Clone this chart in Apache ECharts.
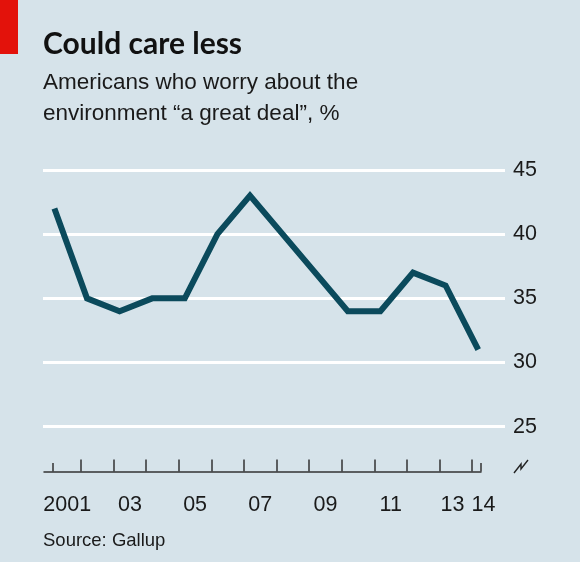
<!DOCTYPE html>
<html><head><meta charset="utf-8">
<script src="https://cdn.jsdelivr.net/npm/echarts@6/dist/echarts.min.js"></script>
<style>html,body{margin:0;padding:0;background:#d6e3ea}#c{width:580px;height:562px}</style>
</head><body><div id="c"></div>
<script>
// ---- data ----
const years = [2001,2002,2003,2004,2005,2006,2007,2008,2009,2010,2011,2012,2013,2014];
const values = [42,35,34,35,35,40,43,40,37,34,34,37,36,31];
const yTickValues = [25,30,35,40,45];
const labelYears = [2001,2003,2005,2007,2009,2011,2013,2014];
const labelTexts = ['2001','03','05','07','09','11','13','14'];

const title = 'Could care less';
const subtitle = 'Americans who worry about the\nenvironment \u201ca great deal\u201d, %';
const source = 'Source: Gallup';

const BG = '#d6e3ea', LINE = '#0b4a5c', TXT = '#1a1a1a', AX = '#333333';
const FONT = '"Liberation Sans", Arial, sans-serif';
const FONT_T = 'Lato, "Liberation Sans", sans-serif';

const chart = echarts.init(document.getElementById('c'), null, {renderer:'canvas'});

const labelMap = {};
labelYears.forEach((y,i)=>{ labelMap[y] = labelTexts[i]; });
const labelRichKey = {2001:'l', 2013:'m', 2014:'r'};

const hiddenY = i => ({type:'value', gridIndex:i, show:false, min:0, max:1});

chart.setOption({
  backgroundColor: BG,
  animation: false,
  title: [
    {text: title, left: 43, top: 29, padding: 0,
     textStyle:{fontFamily: FONT_T, fontSize: 30, lineHeight: 30, fontWeight:'bold', color: '#111'}},
    {text: subtitle, left: 43, top: 67, padding: 0,
     textStyle:{fontFamily: FONT, fontSize: 22.5, lineHeight: 31, fontWeight:'normal', color: TXT}},
    {text: source, left: 43, top: 531, padding: 0,
     textStyle:{fontFamily: FONT, fontSize: 18.5, lineHeight: 19, fontWeight:'normal', color: TXT}}
  ],
  graphic: [
    {type:'rect', shape:{x:0, y:0, width:18, height:54}, style:{fill:'#e3120b'}},
    {type:'polyline', shape:{points:[[514,473],[521,464],[521,469],[528,460]]},
     style:{stroke:'#222', lineWidth:1.4, fill:null}}
  ],
  grid: [
    {left:43, right:75, top:170, height:256.7},
    {left:44, right:99, top:400, height:71.5},
    {left:81, right:107.8, top:400, height:71.5},
    {left:53, right:99, top:400, height:71.5},
    {left:64.7, right:91.5, top:400, height:71.5}
  ],
  xAxis: [
    {type:'value', gridIndex:0, min:2000.6503, max:2014.8221, show:false},
    {type:'value', gridIndex:1, min:0, max:1, axisLine:{show:true, lineStyle:{color:AX, width:1.5}},
     axisTick:{show:false}, axisLabel:{show:false}, splitLine:{show:false}},
    {type:'value', gridIndex:2, min:2002, max:2014, interval:1, axisLine:{show:false},
     axisTick:{show:true, inside:true, length:12, lineStyle:{color:AX, width:1.5}},
     axisLabel:{show:false}, splitLine:{show:false}},
    {type:'value', gridIndex:3, min:0, max:1, interval:1, axisLine:{show:false},
     axisTick:{show:true, inside:true, length:8.5, lineStyle:{color:AX, width:1.5}},
     axisLabel:{show:false}, splitLine:{show:false}},
    {type:'value', gridIndex:4, min:2001, max:2014, interval:1, axisLine:{show:false},
     axisTick:{show:false}, splitLine:{show:false},
     axisLabel:{show:true, margin:23, showMinLabel:true, showMaxLabel:true,
       fontFamily: FONT, fontSize:21.5, color: TXT,
       formatter: v => {
         const t = labelMap[v];
         if (!t) return '';
         const k = labelRichKey[v];
         return k ? '{' + k + '|' + t + '}' : t;
       },
       rich:{
         l:{padding:[0,0,0,5], fontFamily: FONT, fontSize:21.5, color:TXT},
         m:{padding:[0,7,0,0], fontFamily: FONT, fontSize:21.5, color:TXT},
         r:{padding:[0,10,0,0], fontFamily: FONT, fontSize:21.5, color:TXT}
       }}}
  ],
  yAxis: [
    {type:'value', gridIndex:0, position:'right', min:yTickValues[0], max:yTickValues[yTickValues.length-1], interval:5,
     axisLine:{show:false}, axisTick:{show:false},
     splitLine:{show:true, lineStyle:{color:'#ffffff', width:3}},
     axisLabel:{margin:8, fontFamily: FONT, fontSize:21.5, color:TXT, padding:[3,0,0,0]}},
    hiddenY(1), hiddenY(2), hiddenY(3), hiddenY(4)
  ],
  series: [
    {type:'line', xAxisIndex:0, yAxisIndex:0, data: years.map((y,i)=>[y, values[i]]),
     symbol:'none', lineStyle:{color:LINE, width:6, cap:'butt', join:'miter'}, silent:true}
  ]
});
</script></body></html>
